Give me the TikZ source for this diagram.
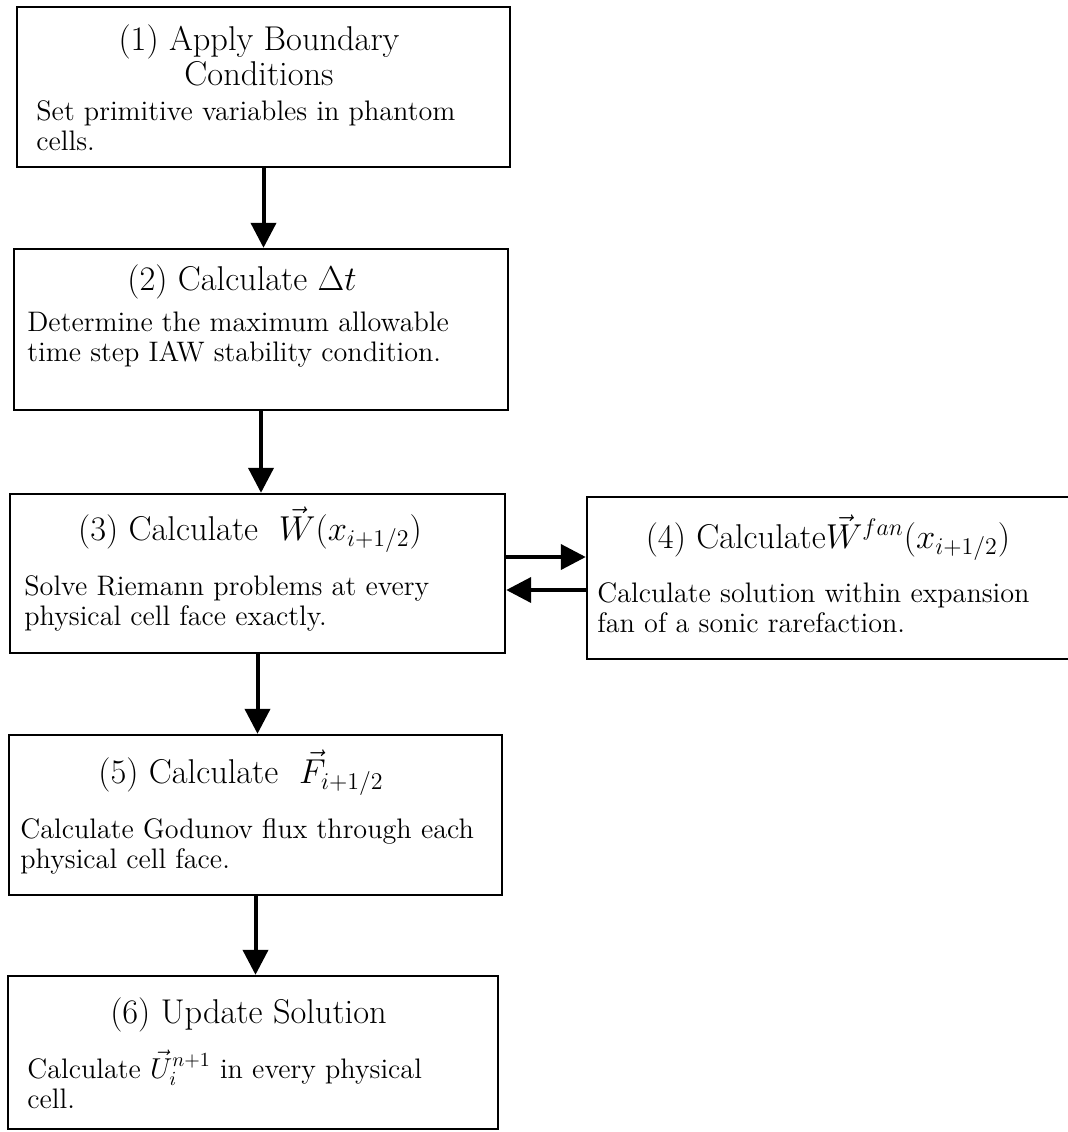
\documentclass[tikz,border=0pt]{standalone}
\usepackage{amsmath}
\usetikzlibrary{arrows.meta}

\begin{document}
\begin{tikzpicture}[x=0.5pt,y=-0.5pt,
stepbox/.style={draw,line width=1.2pt,rectangle,inner sep=0pt},
steptitle/.style={anchor=base,inner sep=0pt,font=\fontsize{17.2pt}{17.5pt}\selectfont},
stepbody/.style={anchor=base west,inner sep=0pt,font=\fontsize{14.1pt}{15pt}\selectfont},
flowarrow/.style={line width=2pt,-{Triangle[length=12.5pt,width=12.5pt]}}]
\useasboundingbox (0,0) rectangle (1068,1132);
\foreach \n/\cx/\cy/\w/\h in {1/263.5/87/493/160,2/261/329.5/494/161,3/257.5/573.5/495/159,4/829/578/484/162,5/255.5/815/493/160,6/253/1052.5/490/153} {
\node[stepbox,minimum width=\w*0.5pt,minimum height=\h*0.5pt] (s\n) at (\cx,\cy) {};
}
\node[steptitle] (t1) at (259,50) {\parbox[t]{260pt}{\centering (1) Apply Boundary\\Conditions}};
\node[steptitle] (t2) at (242,290) {(2) Calculate $\Delta t$};
\node[steptitle] (t3) at (250,540) {(3) Calculate\ \ $\vec{W}(x_{i+1/2})$};
\node[steptitle] (t4) at (828,548) {(4) Calculate$\vec{W}^{fan}(x_{i+1/2})$};
\node[steptitle] (t5) at (241,783) {(5) Calculate\ \ $\vec{F}_{i+1/2}$};
\node[steptitle] (t6) at (248.5,1023) {(6) Update Solution};
\node[stepbody] (b1) at (36,120) {\parbox[t]{260pt}{\raggedright Set primitive variables in phantom\\cells.}};
\node[stepbody] (b2) at (27,331) {\parbox[t]{260pt}{\raggedright Determine the maximum allowable\\time step IAW stability condition.}};
\node[stepbody] (b3) at (24,595) {\parbox[t]{260pt}{\raggedright Solve Riemann problems at every\\physical cell face exactly.}};
\node[stepbody] (b4) at (597,602) {\parbox[t]{260pt}{\raggedright Calculate solution within expansion\\fan of a sonic rarefaction.}};
\node[stepbody] (b5) at (20,838) {\parbox[t]{260pt}{\raggedright Calculate Godunov flux through each\\physical cell face.}};
\node[stepbody] (b6) at (27,1078) {\parbox[t]{260pt}{\raggedright Calculate $\vec{U}_i^{n+1}$ in every physical\\cell.}};
\foreach \a/\b in {1/2,2/3,3/5,5/6} {
\draw[flowarrow] (s\a.south) -- (s\a.south |- s\b.north);
}
\draw[flowarrow] ([yshift=8.25pt]s3.east) -- ([yshift=8.25pt]s3.east -| s4.west);
\draw[flowarrow] ([yshift=-8.25pt]s3.east -| s4.west) -- ([yshift=-8.25pt]s3.east);
\end{tikzpicture}
\end{document}
